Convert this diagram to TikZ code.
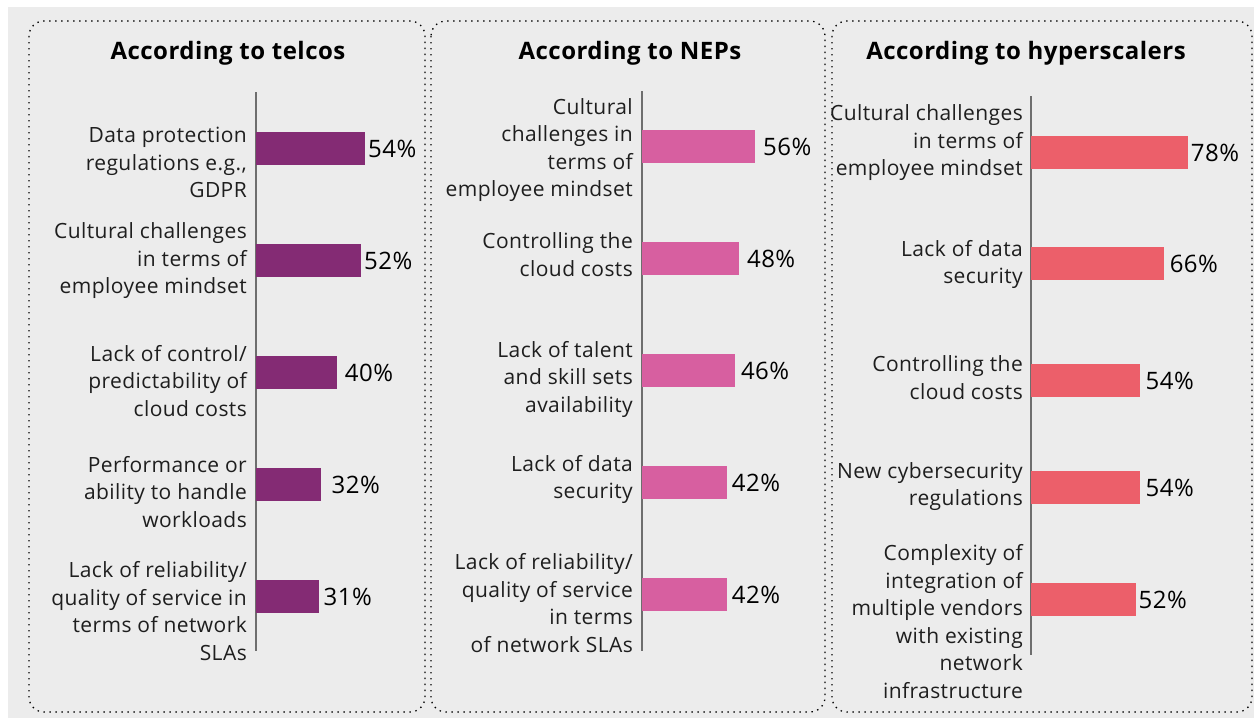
\documentclass[tikz,border=0pt]{standalone}
\usepackage{fontspec}
\setmainfont{Open Sans}
\newfontfamily\spacedfont[LetterSpace=2]{Open Sans}
\usepackage{tikz}

\definecolor{panelgray}{HTML}{ECECEC}
\definecolor{telco}{HTML}{842B74}
\definecolor{nep}{HTML}{D75FA0}
\definecolor{hyper}{HTML}{EC5F6A}
\definecolor{axisgray}{HTML}{6E6E6E}
\definecolor{labelink}{HTML}{1E1E1E}

\tikzset{
	panel/.style={draw=black, line width=1.3pt, dash pattern=on 1.4pt off 4.6pt, rounded corners=15pt},
	heading/.style={font=\spacedfont\bfseries\fontsize{24}{27}\selectfont},
	reason/.style={anchor=east, align=right, inner sep=0pt, text=labelink, font=\spacedfont\fontsize{21}{27.5}\selectfont},
	bar/.style={anchor=west, inner sep=0pt, minimum height=33pt},
	pct/.style={anchor=west, inner sep=2.5pt, font=\spacedfont\fontsize{24}{27}\selectfont},
	axis/.style={draw=axisgray, line width=1.5pt}
}

\begin{document}
\begin{tikzpicture}[x=1pt, y=-1pt]
	\useasboundingbox (0,0) rectangle (1254,718);
	\fill [panelgray] (8,7) rectangle (1254,718);

	\draw [panel] (29,21) rectangle (425,712);
	\draw [panel] (431,21) rectangle (825,712);
	\draw [panel] (832,21) rectangle (1252,712);

	\node [heading] (telcohead) at (228,53) {According to telcos};
	\node [heading] (nephead) at (630,53) {According to NEPs};
	\node [heading] (hyperhead) at (1026,53) {According to hyperscalers};

	% telcos
	\coordinate (ttop) at (256,92);
	\coordinate (tbot) at (256,651);
	\draw [axis] (ttop) -- (tbot);
	\node [bar, fill=telco, minimum width=54*2.02pt] (tbar1) at (256,148.5) {};
	\node [pct] (tpct1) at (tbar1.east) {54\%};
	\node [reason] (treason1) at (247,162.5) {Data protection\\regulations e.g.,\\GDPR};
	\node [bar, fill=telco, minimum width=52*2.02pt] (tbar2) at (256,260.5) {};
	\node [pct] (tpct2) at (tbar2.east) {52\%};
	\node [reason] (treason2) at (247,261) {Cultural challenges\\in terms of\\employee mindset};
	\node [bar, fill=telco, minimum width=40*2.02pt] (tbar3) at (256,372.5) {};
	\node [pct, xshift=5pt] (tpct3) at (tbar3.east) {40\%};
	\node [reason] (treason3) at (247,381) {Lack of control/\\predictability of\\cloud costs};
	\node [bar, fill=telco, minimum width=32*2.02pt] (tbar4) at (256,484.5) {};
	\node [pct, xshift=8pt] (tpct4) at (tbar4.east) {32\%};
	\node [reason] (treason4) at (247,492) {Performance or\\ability to handle\\workloads};
	\node [bar, fill=telco, minimum width=31*2.02pt] (tbar5) at (256,596.5) {};
	\node [pct, xshift=2pt] (tpct5) at (tbar5.east) {31\%};
	\node [reason] (treason5) at (247,611) {Lack of reliability/\\quality of service in\\terms of network\\SLAs};

	% NEPs
	\coordinate (ntop) at (642,91);
	\coordinate (nbot) at (642,651);
	\draw [axis] (ntop) -- (nbot);
	\node [bar, fill=nep, minimum width=56*2.02pt] (nbar1) at (642,146.5) {};
	\node [pct, xshift=5pt] (npct1) at (nbar1.east) {56\%};
	\node [reason] (nreason1) at (633,150) {Cultural\\challenges in\\terms of\\employee mindset};
	\node [bar, fill=nep, minimum width=48*2.02pt] (nbar2) at (642,258.5) {};
	\node [pct, xshift=5pt] (npct2) at (nbar2.east) {48\%};
	\node [reason] (nreason2) at (633,254.5) {Controlling the\\cloud costs};
	\node [bar, fill=nep, minimum width=46*2.02pt] (nbar3) at (642,370.5) {};
	\node [pct, xshift=3pt] (npct3) at (nbar3.east) {46\%};
	\node [reason] (nreason3) at (633,379) {Lack of talent\\and skill sets\\availability};
	\node [bar, fill=nep, minimum width=42*2.02pt] (nbar4) at (642,482.5) {};
	\node [pct, xshift=2pt] (npct4) at (nbar4.east) {42\%};
	\node [reason] (nreason4) at (633,479.5) {Lack of data\\security};
	\node [bar, fill=nep, minimum width=42*2.02pt] (nbar5) at (642,594.5) {};
	\node [pct, xshift=2pt] (npct5) at (nbar5.east) {42\%};
	\node [reason] (nreason5) at (633,603) {Lack of reliability/\\quality of service\\in terms\\of network SLAs};

	% hyperscalers
	\coordinate (htop) at (1031,96);
	\coordinate (hbot) at (1031,655);
	\draw [axis] (htop) -- (hbot);
	\node [bar, fill=hyper, minimum width=78*2.01pt] (hbar1) at (1031,152.5) {};
	\node [pct] (hpct1) at (hbar1.east) {78\%};
	\node [reason] (hreason1) at (1023,143) {Cultural challenges\\in terms of\\employee mindset};
	\node [bar, fill=hyper, minimum width=66*2.01pt] (hbar2) at (1031,263.5) {};
	\node [pct, xshift=3pt] (hpct2) at (hbar2.east) {66\%};
	\node [reason] (hreason2) at (1023,264.5) {Lack of data\\security};
	\node [bar, fill=hyper, minimum width=54*2.01pt] (hbar3) at (1031,380.5) {};
	\node [pct, xshift=3pt] (hpct3) at (hbar3.east) {54\%};
	\node [reason] (hreason3) at (1023,377.5) {Controlling the\\cloud costs};
	\node [bar, fill=hyper, minimum width=54*2.01pt] (hbar4) at (1031,487.5) {};
	\node [pct, xshift=3pt] (hpct4) at (hbar4.east) {54\%};
	\node [reason] (hreason4) at (1023,486.5) {New cybersecurity\\regulations};
	\node [bar, fill=hyper, minimum width=52*2.01pt] (hbar5) at (1031,599.5) {};
	\node [pct] (hpct5) at (hbar5.east) {52\%};
	\node [reason] (hreason5) at (1023,621.5) {Complexity of\\integration of\\multiple vendors\\with existing\\network\\infrastructure};
\end{tikzpicture}
\end{document}
